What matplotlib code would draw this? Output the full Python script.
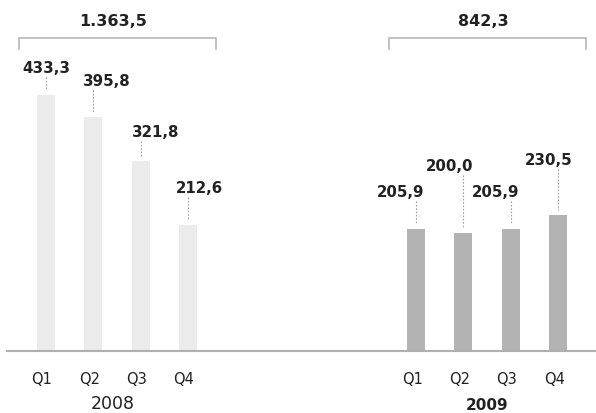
import matplotlib
matplotlib.use('Agg')
import matplotlib.pyplot as plt

# ---- data ----
years = ['2008', '2009']
quarters = ['Q1', 'Q2', 'Q3', 'Q4']
values_2008 = [433.3, 395.8, 321.8, 212.6]
values_2009 = [205.9, 200.0, 205.9, 230.5]

def fmt(v):
    s = f"{v:,.1f}"
    return s.replace(',', 'X').replace('.', ',').replace('X', '.')

# ---- layout (pixels) ----
W, H = 596, 414
BASE_PX = 352.0          # baseline from top
PX_PER_UNIT = 0.591      # vertical scale
X0_PX = 46.0             # centre of first bar
SLOT_PX = 47.33          # bar spacing
GROUP2_START = 7.82      # slot index of first 2009 bar
BAR_W_PX = 18.0

# label baselines (px from top) and x-offsets (px) per bar
lab_base_px = [[73.0, 85.7, 137.4, 193.4], [197.4, 170.7, 197.4, 165.0]]
lab_dx_px = [[0.5, 13.0, 15.0, 11.0], [-15.0, -14.0, -15.0, -9.0]]
colors = ['#ebebeb', '#b3b3b3']

def dy(px):
    return (BASE_PX - px) / PX_PER_UNIT

def dx(px):
    return (px - X0_PX) / SLOT_PX

fig = plt.figure(figsize=(W / 100, H / 100), dpi=100)
ax = fig.add_axes([0, 0, 1, 1])
ax.set_xlim(dx(0), dx(W))
ax.set_ylim(dy(H), dy(0))
ax.axis('off')

txt = '#222222'
series = [values_2008, values_2009]
for g, vals in enumerate(series):
    start = 0 if g == 0 else GROUP2_START
    xs = [start + i for i in range(len(vals))]
    ax.bar(xs, vals, width=BAR_W_PX / SLOT_PX, color=colors[g], zorder=1)
    for i, (x, v) in enumerate(zip(xs, vals)):
        bl = lab_base_px[g][i]
        ax.text(x + lab_dx_px[g][i] / SLOT_PX, dy(bl), fmt(v), ha='center',
                va='baseline', fontsize=10.8, fontweight='bold', color=txt,
                family='DejaVu Sans')
        top_px = BASE_PX - v * PX_PER_UNIT
        ax.plot([x, x], [dy(bl + 5), dy(top_px - 5)], color='#a0a0a0', lw=0.8,
                linestyle=(0, (1.5, 1.5)), zorder=2)
        ax.text(x - 4 / SLOT_PX, dy(384), quarters[i], ha='center', va='baseline',
                fontsize=10.5, color=txt)
    # bracket + total
    left = xs[0] - (BAR_W_PX / 2 + 18) / SLOT_PX
    right = xs[-1] + (BAR_W_PX / 2 + 19) / SLOT_PX
    ax.plot([left, left, right, right], [dy(50), dy(39), dy(39), dy(50)],
            color='#b8b8b8', lw=1.2, solid_joinstyle='miter')
    centre = (xs[0] + xs[-1]) / 2
    ax.text(centre - 4 / SLOT_PX, dy(26), fmt(sum(vals)), ha='center', va='baseline',
            fontsize=11.5, fontweight='bold', color=txt)
    # year label
    if g == 0:
        ax.text(centre - 4 / SLOT_PX, dy(413.5), years[g], ha='center', va='bottom',
                fontsize=12.5, color=txt)
    else:
        ax.text(centre - 0.5 / SLOT_PX, dy(413.5), years[g], ha='center', va='bottom',
                fontsize=11, fontweight='bold', color=txt)

# baseline
ax.plot([dx(7), dx(W)], [0, 0], color='#b0b0b0', lw=1.5, zorder=3)

fig.savefig('out.png', dpi=100)
